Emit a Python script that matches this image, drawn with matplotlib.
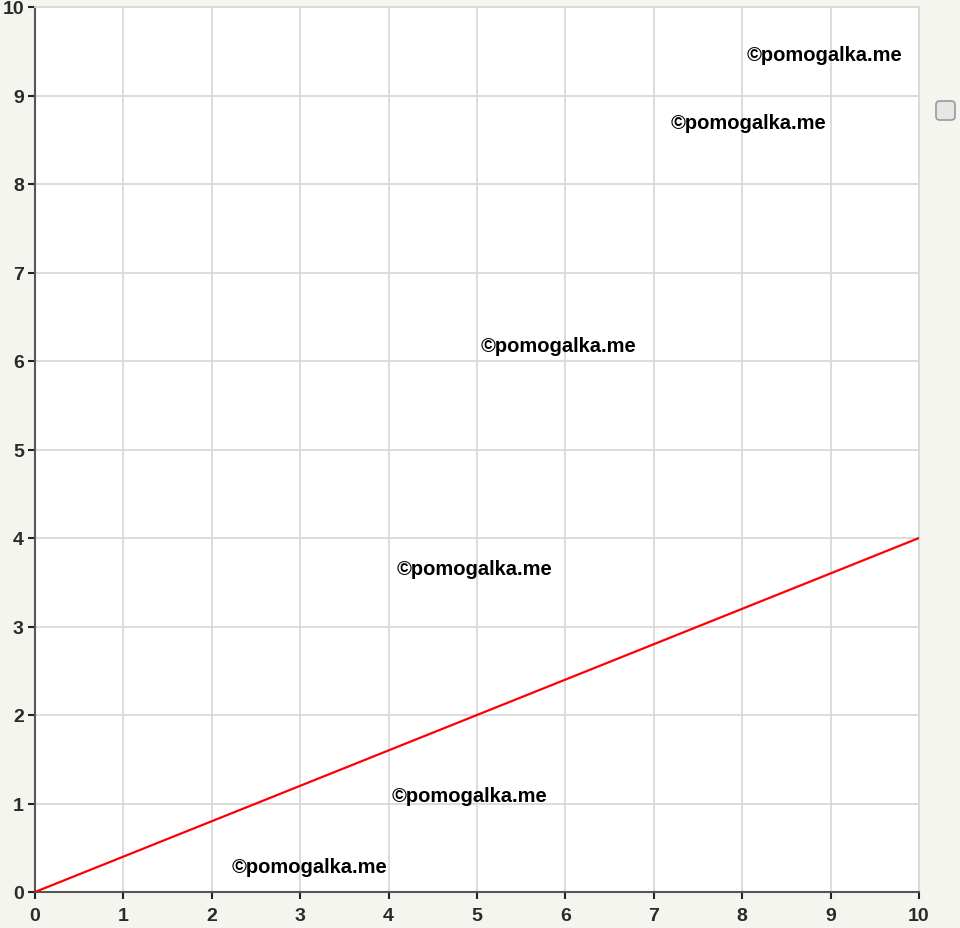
import matplotlib.pyplot as plt
from matplotlib.patches import FancyBboxPatch

plt.rcParams['font.family'] = ['Liberation Sans', 'DejaVu Sans']

line_x = [0, 10]
line_y = [0, 4]
ticks = list(range(0, 11))
mark_text = "©pomogalka.me"
mark_x = [8.93, 8.07, 5.92, 4.97, 4.92, 3.10]
mark_y = [9.46, 8.69, 6.18, 3.65, 1.09, 0.29]

fig = plt.figure(figsize=(9.6, 9.29), dpi=100, facecolor='#f5f5f0')
ax = fig.add_axes([35 / 960, 1 - 893 / 929, 884 / 960, 885 / 929])
ax.set_facecolor('white')

ax.plot(line_x, line_y, color='red', lw=1.6, zorder=3)

ax.set_xlim(0, 10)
ax.set_ylim(0, 10)
ax.set_xticks(ticks)
ax.set_yticks(ticks)
ax.grid(True, color='#d9d9d9', lw=1.3)
ax.set_axisbelow(True)
for s in ['top', 'right']:
    ax.spines[s].set_color('#d9d9d9')
    ax.spines[s].set_linewidth(1.3)
for s in ['left', 'bottom']:
    ax.spines[s].set_color('#555555')
    ax.spines[s].set_linewidth(1.5)
ax.tick_params(length=5, width=1.5, color='#222222', labelsize=14,
               labelcolor='#2a2a2a')
ax.tick_params(axis='x', pad=6)
ax.tick_params(axis='y', pad=3)
for lab in ax.get_xticklabels() + ax.get_yticklabels():
    lab.set_fontweight('bold')

for x, y in zip(mark_x, mark_y):
    ax.text(x, y, mark_text, ha='center', va='center', fontsize=14.5,
            fontweight='bold', color='black', zorder=4)

# checkbox at the right side
box = FancyBboxPatch((936 / 960, 1 - 121 / 929), 19 / 960, 19 / 929,
                     boxstyle='round,pad=0,rounding_size=0.004',
                     transform=fig.transFigure, facecolor='#e6e6e6',
                     edgecolor='#999999', lw=1.2)
fig.patches.append(box)

fig.savefig('out.png', dpi=100, facecolor=fig.get_facecolor())
